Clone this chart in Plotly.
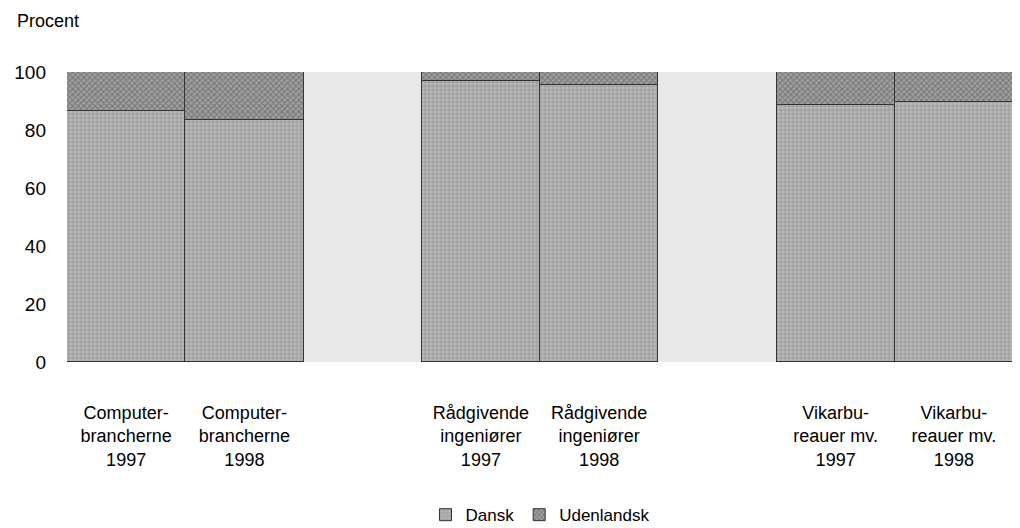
import plotly.graph_objects as go

categories = ["Computer-<br>brancherne<br>1997", "Computer-<br>brancherne<br>1998", " ",
              "Rådgivende<br>ingeniører<br>1997", "Rådgivende<br>ingeniører<br>1998", "  ",
              "Vikarbu-<br>reauer mv.<br>1997", "Vikarbu-<br>reauer mv.<br>1998"]
dansk = [86.5, 83.5, None, 97.0, 95.5, None, 88.5, 89.5]
udenlandsk = [13.5, 16.5, None, 3.0, 4.5, None, 11.5, 10.5]
y_ticks = [0, 20, 40, 60, 80, 100]

font = "Liberation Sans, Arial, sans-serif"

fig = go.Figure()
fig.add_trace(go.Bar(
    x=categories, y=dansk, name="Dansk",
    marker=dict(color="#b0b0b0", line=dict(color="#333333", width=1),
                pattern=dict(shape="+", fgcolor="#6e6e6e", bgcolor="#b8b8b8", size=4, solidity=0.35)),
))
fig.add_trace(go.Bar(
    x=categories, y=udenlandsk, name="Udenlandsk",
    marker=dict(color="#909090", line=dict(color="#333333", width=1),
                pattern=dict(shape="x", fgcolor="#4a4a4a", bgcolor="#a0a0a0", size=4, solidity=0.45)),
))

fig.update_layout(
    barmode="stack", bargap=0,
    width=1012, height=520,
    margin=dict(l=59, r=7, t=64, b=166, autoexpand=False),
    paper_bgcolor="white", plot_bgcolor="#e8e8e8",
    font=dict(family=font, color="black", size=18),
    showlegend=True,
    legend=dict(orientation="h", x=0.5, xanchor="center", y=-0.528, yanchor="middle",
                font=dict(size=17), itemwidth=30, traceorder="normal"),
    annotations=[dict(text="Procent", xref="paper", yref="paper", x=-0.055, y=1.176,
                      xanchor="left", yanchor="middle", showarrow=False,
                      font=dict(size=18, family=font))],
)
fig.update_xaxes(type="category", showgrid=False, ticks="", showline=False, automargin=False,
                 tickfont=dict(size=18), ticklabelstandoff=38)
fig.update_yaxes(range=[0, 100], tickvals=y_ticks, showgrid=False, zeroline=False, automargin=False,
                 showline=False, ticks="", tickfont=dict(size=19), ticklabelstandoff=20)

fig.write_html("out.html")
